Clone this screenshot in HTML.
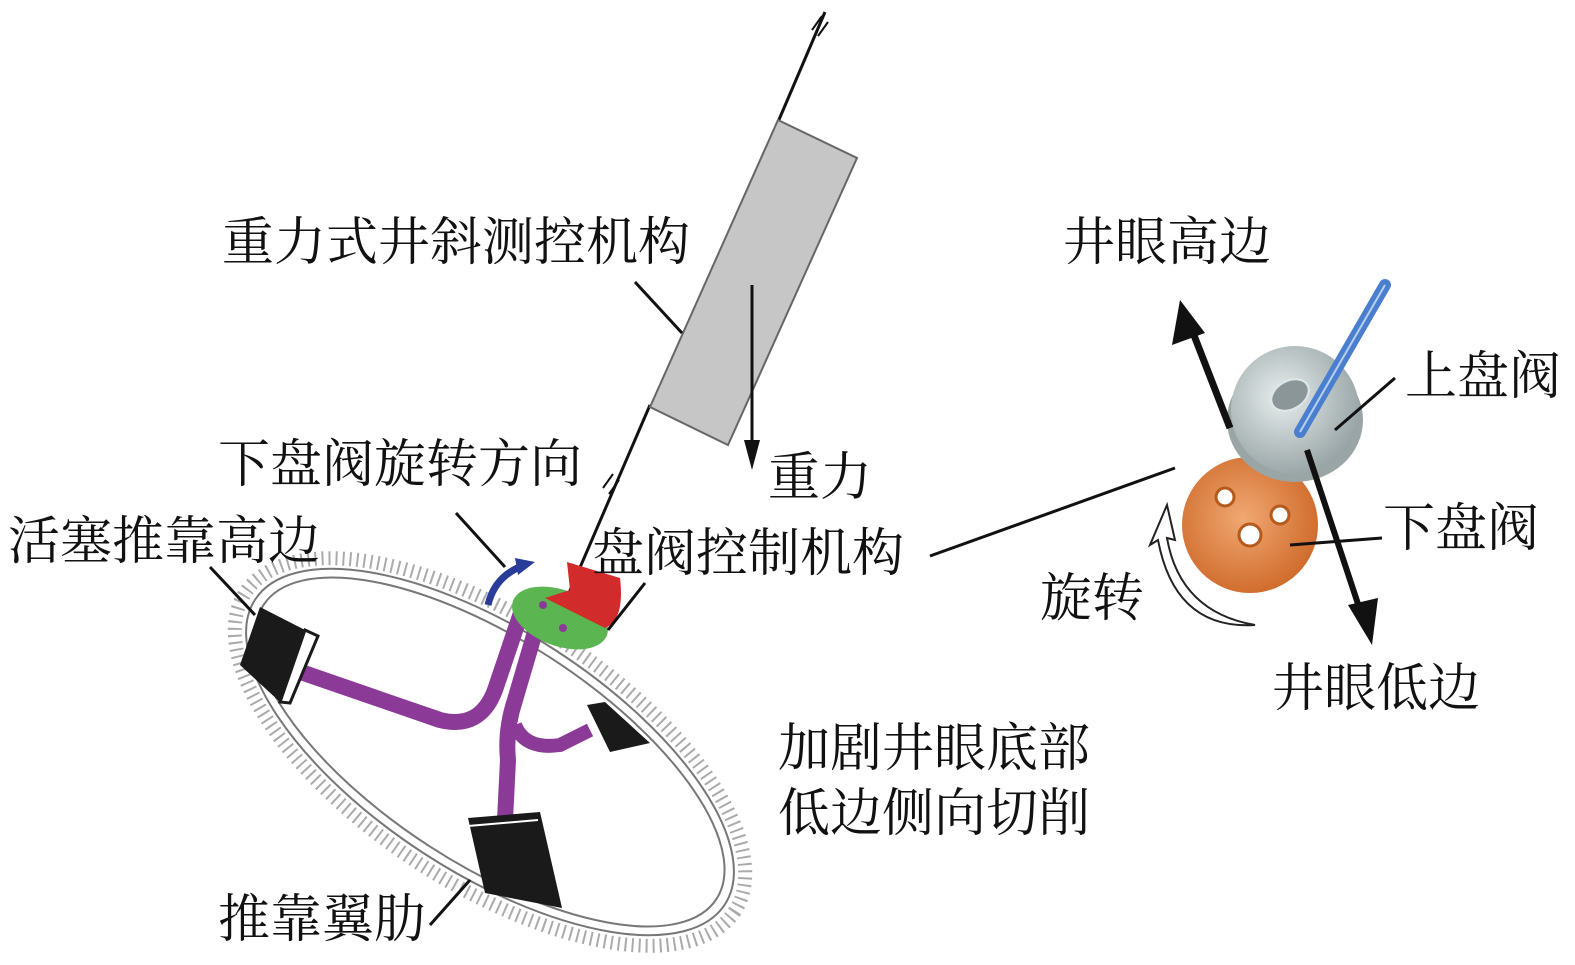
<!DOCTYPE html>
<html><head><meta charset="utf-8"><style>
html,body{margin:0;background:#fff;overflow:hidden;width:1575px;height:965px;}
svg{display:block;}
svg text{font-family:"Liberation Serif","Noto Serif CJK SC",serif;font-size:52px;fill:#111;}
</style></head><body>
<svg width="1575" height="965" viewBox="0 0 1575 965" xmlns="http://www.w3.org/2000/svg">
<defs>
<radialGradient id="gg" cx="0.4" cy="0.4" r="0.7"><stop offset="0" stop-color="#e8eeee"/><stop offset="1" stop-color="#8f9c9e"/></radialGradient>
<radialGradient id="og" cx="0.45" cy="0.45" r="0.7"><stop offset="0" stop-color="#f0a873"/><stop offset="1" stop-color="#c85e1c"/></radialGradient>
</defs>
<line x1="825" y1="12" x2="778" y2="122" stroke="#111" stroke-width="3"/>
<line x1="650" y1="405" x2="566" y2="600" stroke="#111" stroke-width="3"/>
<path d="M812 30 l10 -14 M818 36 l10 -14" stroke="#111" stroke-width="2"/>
<path d="M603 488 l10 -14 M609 494 l10 -14" stroke="#111" stroke-width="2"/>
<polygon points="778,120 857,158 728,445 650,407" fill="#c6c6c6" stroke="#666" stroke-width="2"/>
<line x1="752" y1="285" x2="752" y2="445" stroke="#111" stroke-width="3"/>
<polygon points="744,440 760,440 752,470" fill="#111"/>
<line x1="635" y1="282" x2="682" y2="333" stroke="#111" stroke-width="3"/>
<g transform="translate(490,752) rotate(33)">
<ellipse rx="292" ry="132" fill="none" stroke="#aaa" stroke-width="14" stroke-dasharray="2 5"/>
<ellipse rx="280" ry="121" fill="#fff" stroke="#777" stroke-width="2"/>
<ellipse rx="270" ry="112" fill="none" stroke="#777" stroke-width="2"/>
</g>
<path d="M295 670 L440 720 Q480 730 495 690 L522 610" fill="none" stroke="#8b3a98" stroke-width="16" stroke-linejoin="round"/>
<path d="M540 615 L515 700 Q505 730 508 760 L505 820" fill="none" stroke="#8b3a98" stroke-width="16"/>
<path d="M515 725 Q525 750 560 745 L590 730" fill="none" stroke="#8b3a98" stroke-width="14"/>
<polygon points="260,607 305,630 280,702 240,665" fill="#1a1a1a"/>
<polygon points="305,630 318,636 290,703 280,702" fill="#fff" stroke="#1a1a1a" stroke-width="3"/>
<polygon points="587,705 605,702 650,743 610,752" fill="#1a1a1a"/>
<polygon points="468,818 540,812 562,908 485,893" fill="#1a1a1a"/>
<line x1="468" y1="826" x2="538" y2="820" stroke="#fff" stroke-width="2"/>
<ellipse cx="560" cy="618" rx="50" ry="28" transform="rotate(20 560 618)" fill="#5bb550"/>
<path d="M567 562 L620 578 Q625 620 605 628 L545 598 L570 590 Z" fill="#d22b2b"/>
<circle cx="543" cy="605" r="4" fill="#8b3a98"/><circle cx="563" cy="628" r="4" fill="#8b3a98"/>
<path d="M488 605 Q495 575 525 565" fill="none" stroke="#2a3c9a" stroke-width="7"/>
<polygon points="515,558 535,562 518,575" fill="#2a3c9a"/>
<line x1="456" y1="513" x2="505" y2="567" stroke="#111" stroke-width="3"/>
<line x1="210" y1="567" x2="255" y2="615" stroke="#111" stroke-width="3"/>
<line x1="645" y1="583" x2="608" y2="630" stroke="#111" stroke-width="3"/>
<line x1="470" y1="880" x2="430" y2="925" stroke="#111" stroke-width="3"/>
<line x1="930" y1="556" x2="1175" y2="468" stroke="#111" stroke-width="3"/>
<circle cx="1250" cy="525" r="68" fill="url(#og)"/>
<circle cx="1225" cy="497" r="9" fill="#fff" stroke="#b55a1a" stroke-width="3"/>
<circle cx="1280" cy="515" r="9" fill="#fff" stroke="#b55a1a" stroke-width="3"/>
<circle cx="1250" cy="535" r="11" fill="#fff" stroke="#b55a1a" stroke-width="3"/>
<ellipse cx="1295" cy="420" rx="68" ry="62" fill="#9aa5a6"/>
<circle cx="1295" cy="410" r="64" fill="url(#gg)"/>
<ellipse cx="1290" cy="395" rx="20" ry="14" transform="rotate(-30 1290 395)" fill="#8a9698" stroke="#e0e6e6" stroke-width="2"/>
<line x1="1385" y1="285" x2="1300" y2="432" stroke="#4a7fd0" stroke-width="12" stroke-linecap="round"/>
<line x1="1385" y1="285" x2="1300" y2="432" stroke="#b8d0f0" stroke-width="2"/>
<line x1="1230" y1="428" x2="1190" y2="325" stroke="#111" stroke-width="7"/>
<polygon points="1180,300 1172,345 1205,333" fill="#111"/>
<line x1="1307" y1="450" x2="1360" y2="610" stroke="#111" stroke-width="6"/>
<polygon points="1372,645 1348,605 1378,598" fill="#111"/>
<line x1="1335" y1="430" x2="1395" y2="378" stroke="#111" stroke-width="3"/>
<line x1="1290" y1="545" x2="1382" y2="538" stroke="#111" stroke-width="3"/>
<path d="M1255 625 Q1175 630 1158 540 L1150 545 L1167 505 L1175 540 L1167 538 Q1180 612 1255 625 Z" fill="#fff" stroke="#222" stroke-width="2"/>
<text x="222" y="260">重力式井斜测控机构</text>
<text x="1063" y="260">井眼高边</text>
<text x="1405" y="394">上盘阀</text>
<text x="1383" y="546">下盘阀</text>
<text x="1040" y="616">旋转</text>
<text x="1272" y="706">井眼低边</text>
<text x="218" y="482">下盘阀旋转方向</text>
<text x="768" y="495">重力</text>
<text x="8" y="559">活塞推靠高边</text>
<text x="592" y="571">盘阀控制机构</text>
<text x="778" y="766">加剧井眼底部</text>
<text x="778" y="831">低边侧向切削</text>
<text x="218" y="937">推靠翼肋</text>
</svg>
</body></html>
